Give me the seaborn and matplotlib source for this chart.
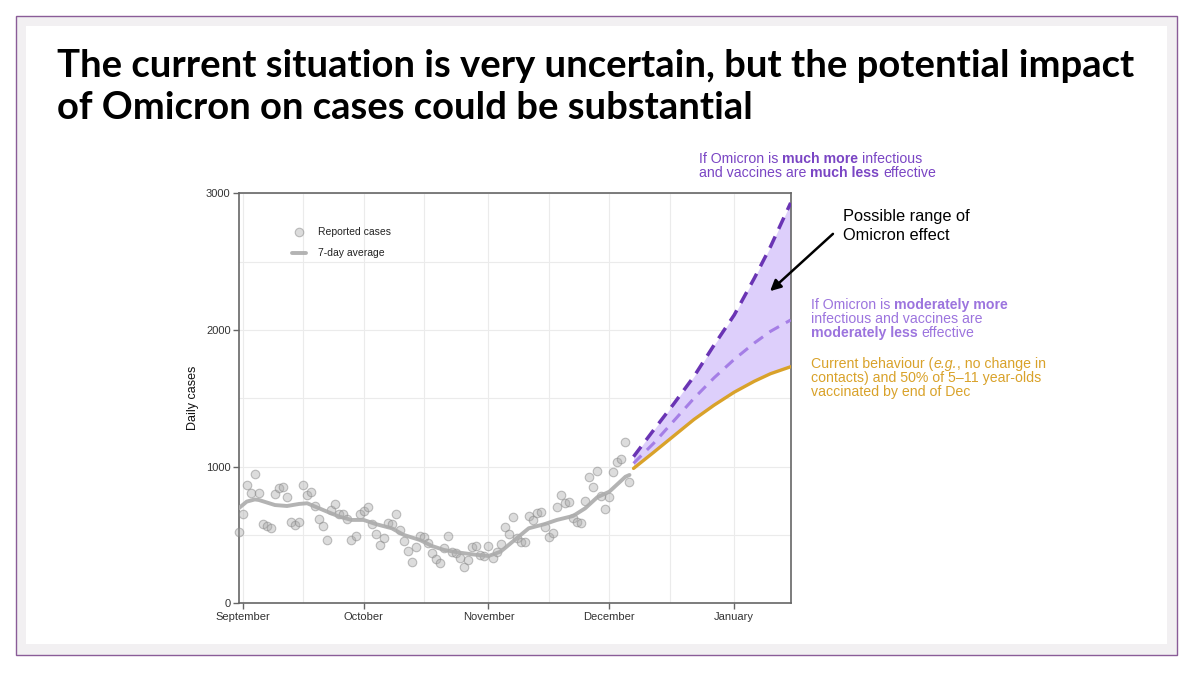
import matplotlib
matplotlib.use("Agg")
import matplotlib.pyplot as plt
import matplotlib.dates as mdates
from matplotlib.patches import Rectangle
import pandas as pd
import seaborn as sns

# reported daily cases, one value per day starting 31 Aug 2021
case_start = "2021-08-31"
reported_cases = [524, 651, 866, 809, 946, 809, 578, 566, 549, 800,
                  841, 853, 780, 597, 573, 593, 866, 792, 817, 712,
                  615, 568, 463, 683, 727, 651, 653, 615, 463, 492,
                  653, 678, 702, 578, 507, 427, 476, 585, 580, 651,
                  536, 458, 385, 305, 414, 492, 483, 439, 370, 322,
                  297, 407, 492, 378, 370, 329, 263, 317, 410, 419,
                  353, 346, 419, 329, 378, 434, 561, 507, 634, 476,
                  451, 451, 639, 610, 663, 670, 556, 483, 512, 707,
                  792, 732, 744, 622, 597, 590, 749, 926, 853, 966,
                  785, 688, 776, 960, 1032, 1054, 1182, 890]

# 7-day average
avg_dates = ["2021-08-31", "2021-09-02", "2021-09-04", "2021-09-05", "2021-09-09",
             "2021-09-12", "2021-09-15", "2021-09-17", "2021-09-19", "2021-09-22",
             "2021-09-25", "2021-09-28", "2021-10-01", "2021-10-04", "2021-10-08",
             "2021-10-11", "2021-10-15", "2021-10-18", "2021-10-21", "2021-10-25",
             "2021-10-28", "2021-11-01", "2021-11-04", "2021-11-05", "2021-11-08",
             "2021-11-11", "2021-11-15", "2021-11-18", "2021-11-22", "2021-11-25",
             "2021-11-28", "2021-12-01", "2021-12-05", "2021-12-06"]
avg_values = [695, 744, 760, 756, 719, 712, 727, 732, 707, 670,
              634, 610, 610, 580, 549, 500, 463, 419, 390, 370,
              358, 346, 378, 402, 476, 549, 580, 610, 639, 695,
              776, 817, 926, 939]

# projections
proj_dates = ["2021-12-07", "2021-12-12", "2021-12-17", "2021-12-22", "2021-12-27",
              "2022-01-01", "2022-01-06", "2022-01-10", "2022-01-15"]
current_behaviour = [987, 1105, 1225, 1345, 1450, 1545, 1625, 1680, 1731]
omicron_moderate = [1024, 1171, 1335, 1500, 1650, 1785, 1905, 1990, 2073]
omicron_severe = [1073, 1268, 1460, 1660, 1890, 2110, 2380, 2610, 2930]

title_lines = ["The current situation is very uncertain, but the potential impact",
               "of Omicron on cases could be substantial"]

W, H = 1192, 673
CHART_FONT = "Liberation Sans"
DARK_PURPLE = "#6a34b4"
LIGHT_PURPLE = "#a57ee6"
FILL_PURPLE = "#ddcffb"
GOLD = "#d9a22a"

sns.set_theme(style="whitegrid")
plt.rcParams["font.family"] = [CHART_FONT, "DejaVu Sans"]

fig = plt.figure(figsize=(W / 100, H / 100), dpi=100)
fig.patch.set_facecolor("white")


def px(x, y):
    return x / W, 1 - y / H


# slide frame
fig.add_artist(Rectangle(px(16, 655), 1161 / W, 639 / H, transform=fig.transFigure,
                         facecolor="#f2f0f2", edgecolor="#8a5c98", lw=1.0, zorder=0))
fig.add_artist(Rectangle(px(26, 644), 1141 / W, 618 / H, transform=fig.transFigure,
                         facecolor="white", edgecolor="none", zorder=0))

for i, line in enumerate(title_lines):
    fig.text(*px(57, 77 + 42 * i), line, family=["Lato", "DejaVu Sans"],
             fontweight="bold", fontsize=27.5, color="black", va="baseline")

ax = fig.add_axes([239 / W, (H - 603.3) / H, 552 / W, 410 / H])

df_cases = pd.DataFrame({"date": pd.date_range(case_start, periods=len(reported_cases)),
                         "cases": reported_cases})
df_avg = pd.DataFrame({"date": pd.to_datetime(avg_dates), "cases": avg_values})
df_proj = pd.DataFrame({"date": pd.to_datetime(proj_dates),
                        "current": current_behaviour,
                        "moderate": omicron_moderate,
                        "severe": omicron_severe})

ax.fill_between(df_proj["date"], df_proj["current"], df_proj["severe"],
                color=FILL_PURPLE, lw=0, zorder=1)
sns.scatterplot(data=df_cases, x="date", y="cases", ax=ax, s=38,
                color=(0.66, 0.66, 0.66, 0.4), edgecolor=(0.52, 0.52, 0.52, 0.5),
                linewidth=0.8, label="Reported cases", zorder=3, clip_on=False)
sns.lineplot(data=df_avg, x="date", y="cases", ax=ax, color="#ababab", lw=2.8,
             alpha=0.9, label="7-day average", zorder=4)
sns.lineplot(data=df_proj, x="date", y="current", ax=ax, color=GOLD, lw=2.4, zorder=5)
sns.lineplot(data=df_proj, x="date", y="moderate", ax=ax, color=LIGHT_PURPLE, lw=2.2,
             linestyle="--", zorder=5)
ax.lines[-1].set_dashes([3.6, 2.6])
sns.lineplot(data=df_proj, x="date", y="severe", ax=ax, color=DARK_PURPLE, lw=2.5,
             linestyle="--", zorder=6)
ax.lines[-1].set_dashes([3.6, 2.4])

ax.set_xlim(pd.Timestamp("2021-08-31 02:00"), pd.Timestamp("2022-01-15 02:00"))
ax.set_ylim(0, 3000)
ax.set_yticks([0, 1000, 2000, 3000])
ax.set_yticks([500, 1500, 2500], minor=True)
ax.xaxis.set_major_locator(mdates.MonthLocator())
ax.xaxis.set_minor_locator(mdates.MonthLocator(bymonthday=16))
ax.xaxis.set_major_formatter(mdates.DateFormatter("%B"))
ax.grid(True, which="both", color="#ebebeb", lw=0.8)
ax.set_axisbelow(True)
ax.set_facecolor("white")
for side in ax.spines.values():
    side.set_color("#666666")
    side.set_linewidth(1.2)
ax.tick_params(axis="both", which="major", length=4, width=1, color="#666666",
               labelsize=8, labelcolor="#333333", pad=2, bottom=True, left=True)
ax.tick_params(axis="both", which="minor", length=0)
ax.set_xlabel("")
ax.set_ylabel("Daily cases", fontsize=9, color="#111111", labelpad=5)

leg = ax.legend(loc="upper left", bbox_to_anchor=(0.096, 0.918), frameon=False,
                fontsize=7.5, borderpad=0, borderaxespad=0, handlelength=1.35,
                handletextpad=1.1, labelspacing=1.1)
for txt in leg.get_texts():
    txt.set_color("#222222")

renderer = fig.canvas.get_renderer()


def rich_line(x, y, runs, color, size):
    # lay out bold / italic runs one after another on a single line
    space = 0.278 * size * 100 / 72
    for text, weight, style in runs:
        if text.startswith(" "):
            x += space
        t = fig.text(*px(x, y), text.strip(), fontsize=size, family=CHART_FONT,
                     fontweight=weight, fontstyle=style, color=color, va="center")
        x += t.get_window_extent(renderer).width
        if text.endswith(" "):
            x += space


N, B, I = "normal", "bold", "italic"
NOTE = 10.2
rich_line(699, 159, [("If Omicron is ", N, N), ("much more", B, N), (" infectious", N, N)],
          "#7a45c4", NOTE)
rich_line(699, 173, [("and vaccines are ", N, N), ("much less", B, N), (" effective", N, N)],
          "#7a45c4", NOTE)
rich_line(811, 305, [("If Omicron is ", N, N), ("moderately more", B, N)], "#9c74de", NOTE)
rich_line(811, 319, [("infectious and vaccines are", N, N)], "#9c74de", NOTE)
rich_line(811, 333, [("moderately less", B, N), (" effective", N, N)], "#9c74de", NOTE)
rich_line(811, 364, [("Current behaviour (", N, N), ("e.g.", N, I), (", no change in", N, N)],
          GOLD, NOTE)
rich_line(811, 378, [("contacts) and 50% of 5\u201311 year-olds", N, N)], GOLD, NOTE)
rich_line(811, 392, [("vaccinated by end of Dec", N, N)], GOLD, NOTE)

fig.text(*px(843, 226), "Possible range of\nOmicron effect", fontsize=11.8,
         color="black", va="center", linespacing=1.3)
ax.annotate("", xy=(768, H - 293), xycoords="figure pixels",
            xytext=(835, H - 232), textcoords="figure pixels",
            arrowprops=dict(arrowstyle="-|>", color="black", lw=1.8, mutation_scale=16))

fig.savefig("out.png", dpi=100, facecolor="white")
